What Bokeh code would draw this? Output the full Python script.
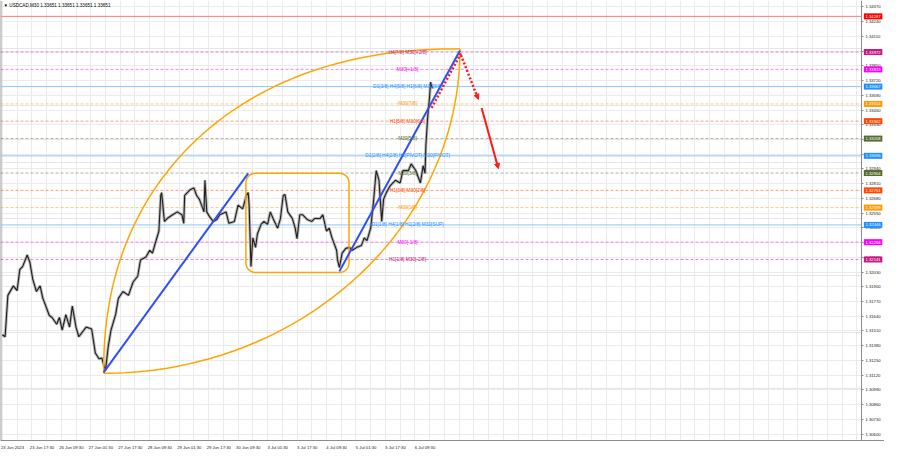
import numpy as np
from bokeh.plotting import figure
from bokeh.models import (Range1d, FixedTicker, Label, Arrow, NormalHead, Span, Grid,
                          LinearAxis, PrintfTickFormatter)
from bokeh.core.properties import value
from bokeh.embed import file_html
from bokeh.resources import INLINE

# ---------------- data ----------------
title_text = "\u25bc USDCAD,M30  1.33651 1.33651 1.33651 1.33651"

bar_index = [0, 3, 6, 12, 16, 19, 22, 27, 30, 33, 37, 41, 44, 48, 51, 54, 59, 62, 65, 69,
             73, 76, 80, 83, 91, 97, 101, 105, 108, 112, 115, 118, 123, 126, 131, 137, 142,
             147, 150, 156, 160, 163, 166, 170, 172, 173, 176, 179, 185, 190, 195, 197, 198,
             204, 208, 211, 214, 219, 220, 222, 225, 229, 233, 236, 243, 246, 252, 256, 261,
             265, 267, 268, 270, 272, 275, 277, 281, 284, 288, 291, 294, 299, 302, 305, 307,
             310, 315, 318, 320, 323, 326, 331, 336, 339, 345, 348, 352, 355, 358, 363, 364,
             366, 369, 373, 377, 380, 385, 390, 393, 396, 400, 403, 406, 409, 412, 414, 417,
             421, 427, 432, 435, 441, 444, 449, 454, 457, 459, 460, 462, 464, 465, 467]

close_price = [1.31476, 1.31459, 1.31824, 1.31908, 1.31866, 1.32053, 1.32078, 1.32180, 1.32112,
               1.31968, 1.31858, 1.31908, 1.31798, 1.31713, 1.31646, 1.31629, 1.31569, 1.31629,
               1.31518, 1.31654, 1.31544, 1.31730, 1.31544, 1.31459, 1.31544, 1.31527, 1.31315,
               1.31264, 1.31272, 1.31160, 1.31374, 1.31518, 1.31654, 1.31798, 1.31858, 1.31824,
               1.31942, 1.31993, 1.32137, 1.32163, 1.32222, 1.32197, 1.32282, 1.32392, 1.32706,
               1.32731, 1.32477, 1.32502, 1.32536, 1.32561, 1.32536, 1.32460, 1.32706, 1.32757,
               1.32773, 1.32706, 1.32672, 1.32561, 1.32841, 1.32561, 1.32519, 1.32477, 1.32494,
               1.32536, 1.32561, 1.32460, 1.32477, 1.32621, 1.32587, 1.32706, 1.32731, 1.32621,
               1.32078, 1.32332, 1.32248, 1.32366, 1.32451, 1.32477, 1.32451, 1.32561, 1.32502,
               1.32417, 1.32502, 1.32706, 1.32714, 1.32561, 1.32502, 1.32417, 1.32324, 1.32536,
               1.32536, 1.32494, 1.32477, 1.32502, 1.32502, 1.32536, 1.32392, 1.32417, 1.32332,
               1.32222, 1.32137, 1.32070, 1.32197, 1.32239, 1.32248, 1.32222, 1.32248, 1.32265,
               1.32332, 1.32307, 1.32417, 1.32646, 1.32926, 1.32841, 1.32477, 1.32672, 1.32731,
               1.32790, 1.32841, 1.32816, 1.32926, 1.32926, 1.32985, 1.32926, 1.32816, 1.32969,
               1.32901, 1.33155, 1.33409, 1.33579, 1.33706, 1.33651]

time_ticks = [0, 32, 64, 96, 128, 160, 192, 224, 256, 288, 320, 352, 384, 416, 448]
time_labels = ["23 Jun 2023", "23 Jun 17:30", "26 Jun 09:30", "27 Jun 01:30", "27 Jun 17:30",
               "28 Jun 09:30", "29 Jun 01:30", "29 Jun 17:30", "30 Jun 09:30", "3 Jul 01:30",
               "3 Jul 17:30", "4 Jul 09:30", "5 Jul 01:30", "5 Jul 17:30", "6 Jul 09:30"]

price_ticks = [1.30600, 1.30730, 1.30860, 1.30990, 1.31120, 1.31250, 1.31380, 1.31510,
               1.31640, 1.31770, 1.31900, 1.32030, 1.32160, 1.32290, 1.32420, 1.32550,
               1.32680, 1.32810, 1.32940, 1.33070, 1.33200, 1.33330, 1.33460, 1.33590,
               1.33720, 1.33850, 1.33980, 1.34110, 1.34240, 1.34370]

level_prices = [1.34287, 1.33972, 1.33819, 1.33667, 1.33514, 1.33362, 1.33208, 1.33056,
                1.32904, 1.32751, 1.32599, 1.32446, 1.32294, 1.32141]
level_names = ["", "H4[7/8] M30[+2/8]", "M30[+1/8]", "D1[3/8] H4[5/8] H1[6/8] M30[8/8]",
               "M30[7/8]", "H1[5/8] M30[6/8]", "M30[5/8]",
               "D1[2/8] H4[2/8] H1[PIVOT] M30[PIVOT]", "M30[3/8]", "H1[3/8] M30[2/8]",
               "M30[1/8]", "D1[1/8] H4[1/8] H1[2/8] M30[SUP]", "M30[-1/8]", "H1[1/8] M30[-2/8]"]

trend1_x = [110, 267]
trend1_y = [1.31145, 1.32901]
trend2_x = [366, 497]
trend2_y = [1.32036, 1.33986]

arc_start = (110, 1.31136)
arc_end = (497, 1.34000)

box_x = (264.5, 376.5)
box_y = (1.32027, 1.32901)

proj_dot_back_x = [498, 466]
proj_dot_back_y = [1.33961, 1.33477]
proj_dot_x = [498, 517]
proj_dot_y = [1.33945, 1.33554]
proj_solid_x = [520.5, 538.7]
proj_solid_y = [1.33478, 1.32943]

# ---------------- styles ----------------
box_colors = ["#ff0000", "#c71585", "#ff00ff", "#1e90ff", "#ff9a00", "#ff4500", "#556b2f",
              "#1e90ff", "#556b2f", "#ff4500", "#ff9a00", "#1e90ff", "#ff00ff", "#c71585"]
FONT = "Liberation Sans"
X0, XR = -2, 958          # frame extent (includes price-scale strip)
AX = 933                  # position of the price scale
BOX_X = 945.6             # centre of the coloured price boxes
Y0, Y1 = 1.30543, 1.34427
TEXT_BAR = 440
XLABEL_SHIFT = 11         # MT4 time labels start at the grid line

p = figure(width=884, height=452, output_backend="svg", toolbar_location=None,
           x_range=Range1d(X0, XR), y_range=Range1d(Y0, Y1), y_axis_location=None,
           min_border_left=0, min_border_top=0, min_border_right=0, min_border_bottom=11)
p.background_fill_color = "white"
p.border_fill_color = "white"
p.outline_line_color = None

# grid
p.xgrid.ticker = FixedTicker(ticks=list(range(0, 934, 16)))
p.xgrid.grid_line_color = "#ebebeb"
p.add_layout(Grid(dimension=1, ticker=FixedTicker(ticks=price_ticks), grid_line_color="#ebebeb"))

# price scale (real axis, fixed at the strip boundary)
yax = LinearAxis(fixed_location=AX, ticker=FixedTicker(ticks=price_ticks),
                 formatter=PrintfTickFormatter(format="%.5f"))
p.add_layout(yax, "right")
xax = p.xaxis[0]
xax.ticker = FixedTicker(ticks=[t + XLABEL_SHIFT for t in time_ticks])
xax.major_label_overrides = {t + XLABEL_SHIFT: l for t, l in zip(time_ticks, time_labels)}
xax.major_tick_line_color = None
for ax in (xax, yax):
    ax.major_label_text_font_size = "4.2px"
    ax.major_label_text_font = FONT
    ax.major_label_text_color = "#202020"
    ax.axis_line_color = "#8c8c8c"
    ax.major_tick_out = 2
    ax.major_tick_in = 0
    ax.minor_tick_line_color = None
    ax.major_label_standoff = 2
yax.major_tick_line_color = "#8c8c8c"

# left frame edge
p.add_layout(Span(location=X0, dimension="height", line_color="#9a9a9a", line_width=2,
                  level="underlay"))

# level lines
for i, (lv, c) in enumerate(zip(level_prices, box_colors)):
    if i == 0:
        s = Span(location=lv, dimension="width", line_color="#ff7a7a", line_width=1)
    elif c == "#1e90ff":
        s = Span(location=lv, dimension="width", line_color="#8cc6ff", line_width=1)
    else:
        s = Span(location=lv, dimension="width", line_color=c, line_alpha=0.5,
                 line_width=1, line_dash="3 2")
    s.level = "underlay"
    p.add_layout(s)

# price
p.line(bar_index, close_price, line_color="#b8b8b8", line_width=3)
p.line(bar_index, close_price, line_color="#1e1e1e", line_width=1.1)

# arcs
t = np.linspace(0, np.pi / 2, 80)
n_up = 2.2
(xa, ya), (xb, yb) = arc_start, arc_end
ux = xb - (xb - xa) * np.cos(t) ** (2 / n_up)
uy = ya + (yb - ya) * np.sin(t) ** (2 / n_up)
lx = xa + (xb - xa) * np.sin(t)
ly = yb - (yb - ya) * np.cos(t)
p.line(ux, uy, line_color="#ffa500", line_width=1.5)
p.line(lx, ly, line_color="#ffa500", line_width=1.5)

# rounded box
def rounded_rect(x0, x1, y0, y1, rx, ry, n=10):
    xs, ys = [], []
    corners = [(x1 - rx, y1 - ry, 0), (x0 + rx, y1 - ry, 90),
               (x0 + rx, y0 + ry, 180), (x1 - rx, y0 + ry, 270)]
    for cx, cy, a0 in corners:
        a = np.radians(np.linspace(a0, a0 + 90, n))
        xs += list(cx + rx * np.cos(a))
        ys += list(cy + ry * np.sin(a))
    xs.append(xs[0]); ys.append(ys[0])
    return xs, ys

rx_, ry_ = rounded_rect(box_x[0], box_x[1], box_y[0], box_y[1], 10, 0.00085)
p.line(rx_, ry_, line_color="#ffa500", line_width=1.5)

# trend lines
p.line(trend1_x, trend1_y, line_color="#2f4ff5", line_width=2)
p.line(trend2_x, trend2_y, line_color="#2f4ff5", line_width=2)

# projection arrows
p.line(proj_dot_back_x, proj_dot_back_y, line_color="#ff1a1a", line_width=2.5, line_dash="2 2")
p.add_layout(Arrow(end=NormalHead(size=5, fill_color="#ff1a1a", line_color="#ff1a1a"),
                   x_start=proj_dot_x[0], y_start=proj_dot_y[0],
                   x_end=proj_dot_x[1], y_end=proj_dot_y[1],
                   line_color="#ff1a1a", line_width=2.5, line_dash="2 2"))
p.add_layout(Arrow(end=NormalHead(size=5, fill_color="#ff1a1a", line_color="#ff1a1a"),
                   x_start=proj_solid_x[0], y_start=proj_solid_y[0],
                   x_end=proj_solid_x[1], y_end=proj_solid_y[1],
                   line_color="#ff1a1a", line_width=2))

# level names
p.text(x=[TEXT_BAR] * (len(level_names) - 1), y=level_prices[1:], text=level_names[1:],
       text_color=box_colors[1:], text_align="center", text_baseline="middle",
       text_font_size="4.8px", text_font=value(FONT))

# white strip behind the price scale
p.quad(left=[AX], right=[XR], bottom=[Y0], top=[Y1], fill_color="white", line_color=None)

# coloured price boxes on the scale (drawn above the axis labels)
n = len(level_prices)
p.rect(x=[BOX_X] * n, y=level_prices, width=18.5, height=6, width_units="screen",
       height_units="screen", fill_color=box_colors, line_color=None, level="overlay")
p.text(x=[BOX_X] * n, y=level_prices, text=[f"{lv:.5f}" for lv in level_prices],
       text_color="white", text_align="center", text_baseline="middle",
       text_font_size="4.2px", text_font=value(FONT), level="overlay")

# title
p.add_layout(Label(x=X0, y=Y1, x_offset=3, y_offset=-2, text=title_text, text_align="left",
                   text_baseline="top", text_color="#000000", text_font_size="4.6px",
                   text_font=FONT))

open("out.html", "w").write(file_html(p, INLINE))
